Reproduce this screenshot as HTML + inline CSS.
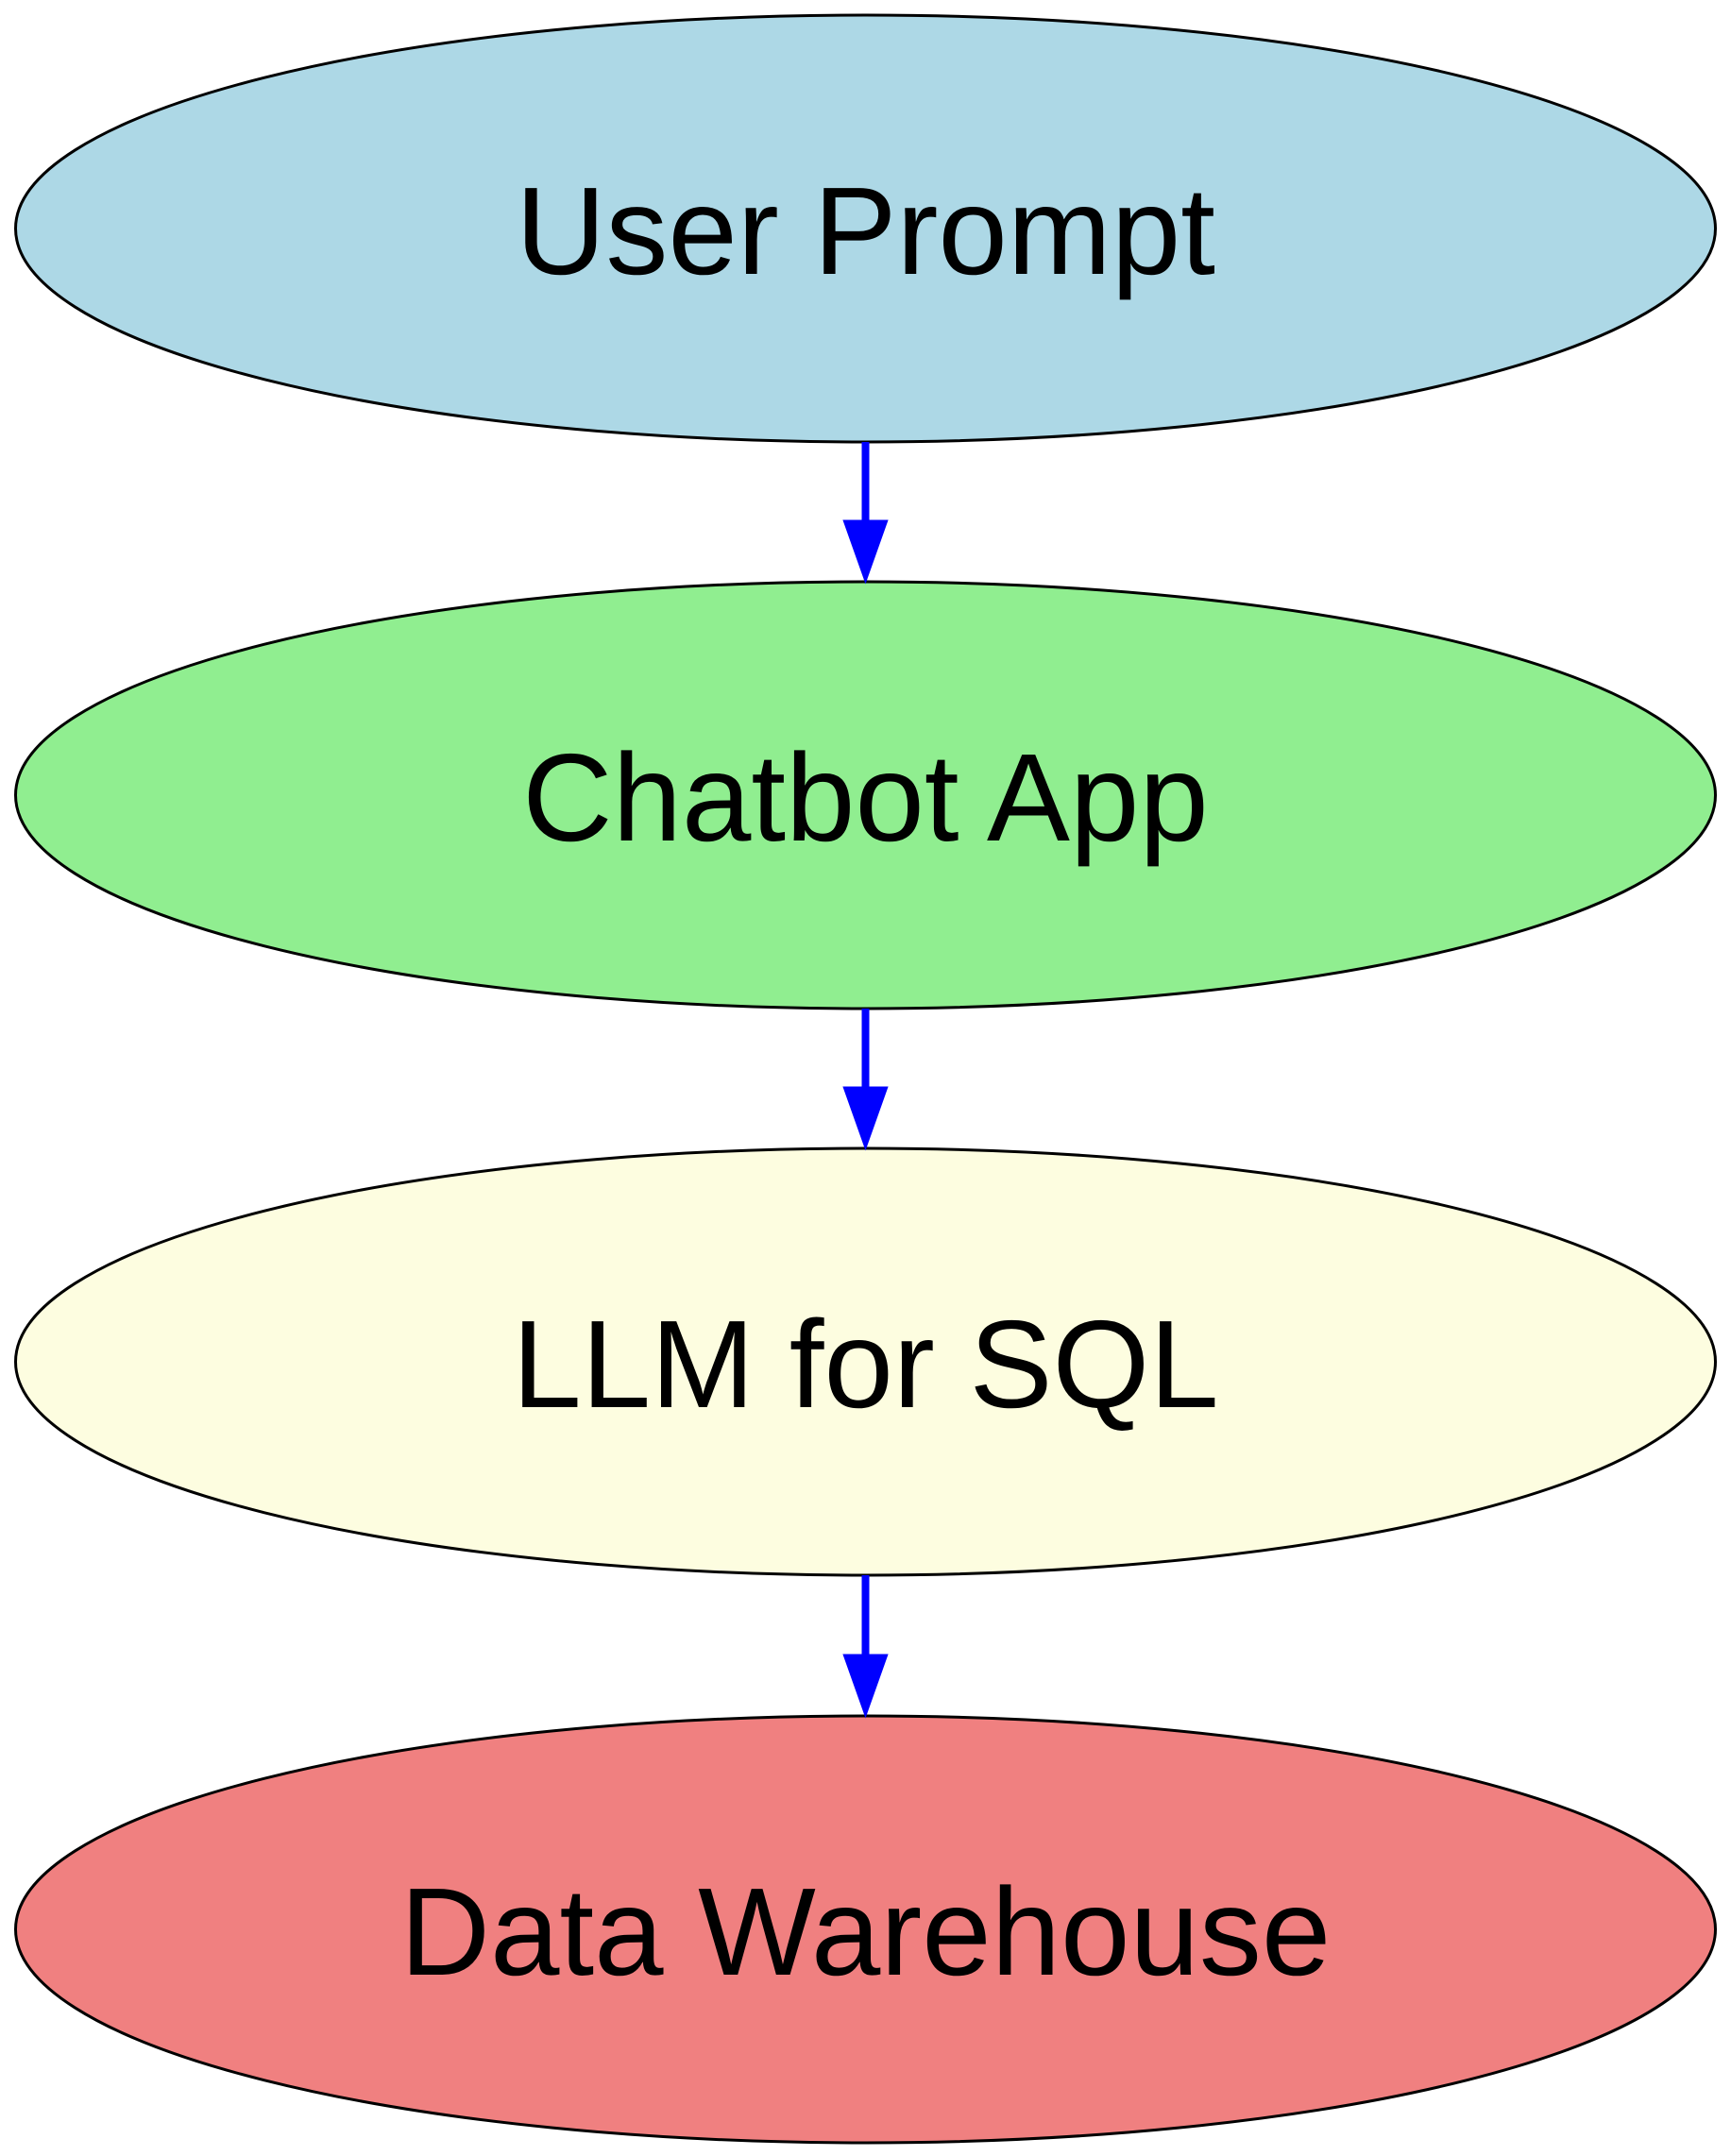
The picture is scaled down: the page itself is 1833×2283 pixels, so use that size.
<!DOCTYPE html>
<html><head><meta charset="utf-8"><style>
html,body{margin:0;padding:0;background:#fff;}
svg{display:block;}
text{font-family:"Liberation Sans",Arial,sans-serif;font-size:132px;fill:#000;}
</style></head><body>
<svg width="1833" height="2283" viewBox="0 0 1833 2283" xmlns="http://www.w3.org/2000/svg">
<ellipse cx="916.5" cy="242" rx="900" ry="226" fill="#add8e6" stroke="#000" stroke-width="3"/>
<text x="916.5" y="290" text-anchor="middle">User Prompt</text>
<ellipse cx="916.5" cy="842" rx="900" ry="226" fill="#90ee90" stroke="#000" stroke-width="3"/>
<text x="916.5" y="890" text-anchor="middle">Chatbot App</text>
<ellipse cx="916.5" cy="1442" rx="900" ry="226" fill="#fdfde0" stroke="#000" stroke-width="3"/>
<text x="916.5" y="1490" text-anchor="middle">LLM for SQL</text>
<ellipse cx="916.5" cy="2043" rx="900" ry="226" fill="#f08080" stroke="#000" stroke-width="3"/>
<text x="916.5" y="2091" text-anchor="middle">Data Warehouse</text>
<g stroke="#0000ff" stroke-width="8" fill="#0000ff">
<line x1="916.5" y1="468" x2="916.5" y2="552"/>
<polygon points="894.5,552 938.5,552 916.5,614" stroke-width="3"/>
<line x1="916.5" y1="1068" x2="916.5" y2="1152"/>
<polygon points="894.5,1152 938.5,1152 916.5,1214" stroke-width="3"/>
<line x1="916.5" y1="1668" x2="916.5" y2="1753"/>
<polygon points="894.5,1753 938.5,1753 916.5,1815" stroke-width="3"/>
</g>
</svg>
</body></html>
